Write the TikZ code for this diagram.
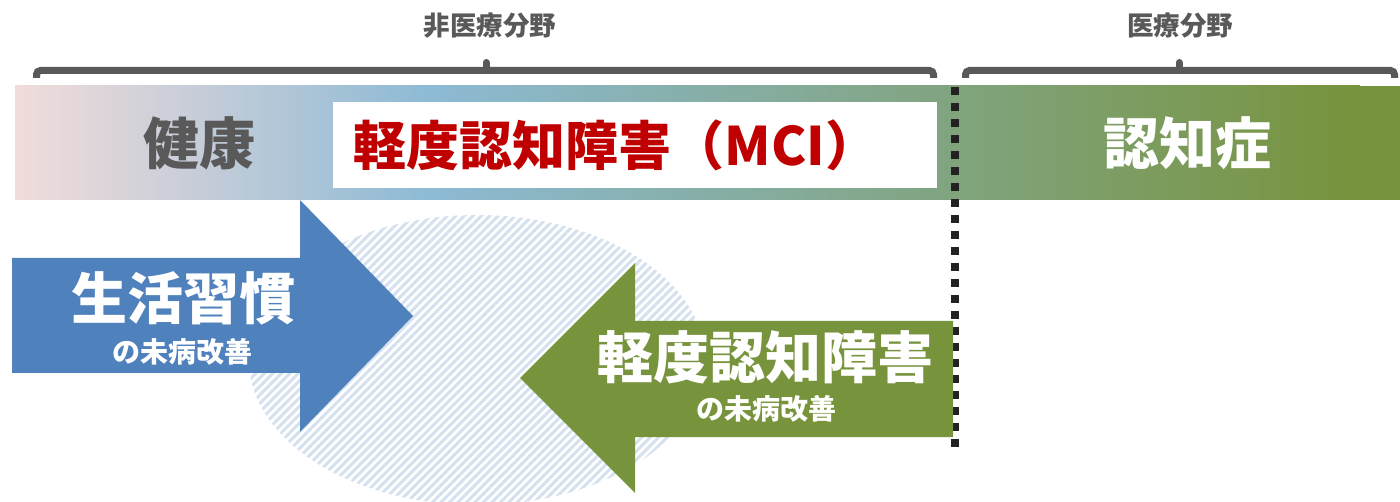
\documentclass[tikz,border=0pt]{standalone}
\usepackage{fontspec}
\setmainfont{Noto Sans CJK JP}
\usetikzlibrary{patterns.meta}
\definecolor{txtgray}{HTML}{595959}
\definecolor{cpink}{HTML}{F2DCDB}
\definecolor{cblue}{HTML}{8DBAD5}
\definecolor{cgreen}{HTML}{77933C}
\definecolor{arrblue}{HTML}{4F81BD}
\definecolor{arrgreen}{HTML}{77933C}
\definecolor{mcired}{HTML}{C00000}
\definecolor{hatch}{HTML}{D6E1F0}
\definecolor{dotc}{HTML}{222222}
\begin{document}
\begin{tikzpicture}[x=1pt,y=-1pt,
  bracket/.style={draw=txtgray,line width=7pt,rounded corners=4pt},
  tick/.style={draw=txtgray,line width=7pt,line cap=round},
  toplabel/.style={text=txtgray,font=\fontsize{26.5}{30}\selectfont\bfseries,inner sep=0pt},
  biglabel/.style={font=\fontsize{56}{60}\selectfont\bfseries,inner sep=0pt},
  smalllabel/.style={text=white,font=\fontsize{28}{32}\selectfont\bfseries,inner sep=0pt}]
\useasboundingbox (0,0) rectangle (1400,502);
% gradient bar
\shade[left color=cpink,right color=cblue] (15,86) rectangle (430,200);
\shade[left color=cblue,right color=cgreen] (429.5,86) rectangle (1360,200);
\fill[cgreen] (1359.5,86) rectangle (1400,200);
% white box
\fill[white] (333,102) rectangle (937,188);
% brackets
\draw[bracket] (36.5,78) -- (36.5,70.5) -- (933.5,70.5) -- (933.5,78);
\draw[tick] (486,70) -- (486,62.5);
\draw[bracket] (965.5,78) -- (965.5,70.5) -- (1394.5,70.5) -- (1394.5,78);
\draw[tick] (1179,70) -- (1179,62.5);
\node[toplabel] (nonmed) at (490,26) {非医療分野};
\node[toplabel] (med) at (1180,26) {医療分野};
% bar labels
\node[biglabel,text=txtgray] (health) at (199,143) {健康};
\node[biglabel,text=mcired,font=\fontsize{53}{58}\selectfont\bfseries] (mci) at (616,145) {軽度認知障害（MCI）};
\node[biglabel,text=white] (dementia) at (1187,143) {認知症};
% hatched ellipse
\path[pattern={Lines[angle=45,distance=6pt,line width=3pt]},pattern color=hatch]
  (477,360) ellipse [x radius=228, y radius=145];
% dotted divider
\coordinate (divtop) at (955,87);
\coordinate (divbot) at (955,447);
\draw[dotc,line width=8pt,dash pattern=on 8pt off 8pt] (divtop) -- (divbot);
% blue arrow
\fill[arrblue] (12,258) -- (300,258) -- (300,200) -- (413,316) -- (300,432) -- (300,373) -- (12,373) -- cycle;
\node[biglabel,text=white] (life) at (183,298) {生活習慣};
\node[smalllabel] (life2) at (182,352) {の未病改善};
% green arrow
\fill[arrgreen] (953,321) -- (635,321) -- (635,263) -- (520,378) -- (635,493) -- (635,437) -- (953,437) -- cycle;
\node[biglabel,text=white] (mci2) at (765,357) {軽度認知障害};
\node[smalllabel] (mci3) at (766,409) {の未病改善};
\end{tikzpicture}
\end{document}
